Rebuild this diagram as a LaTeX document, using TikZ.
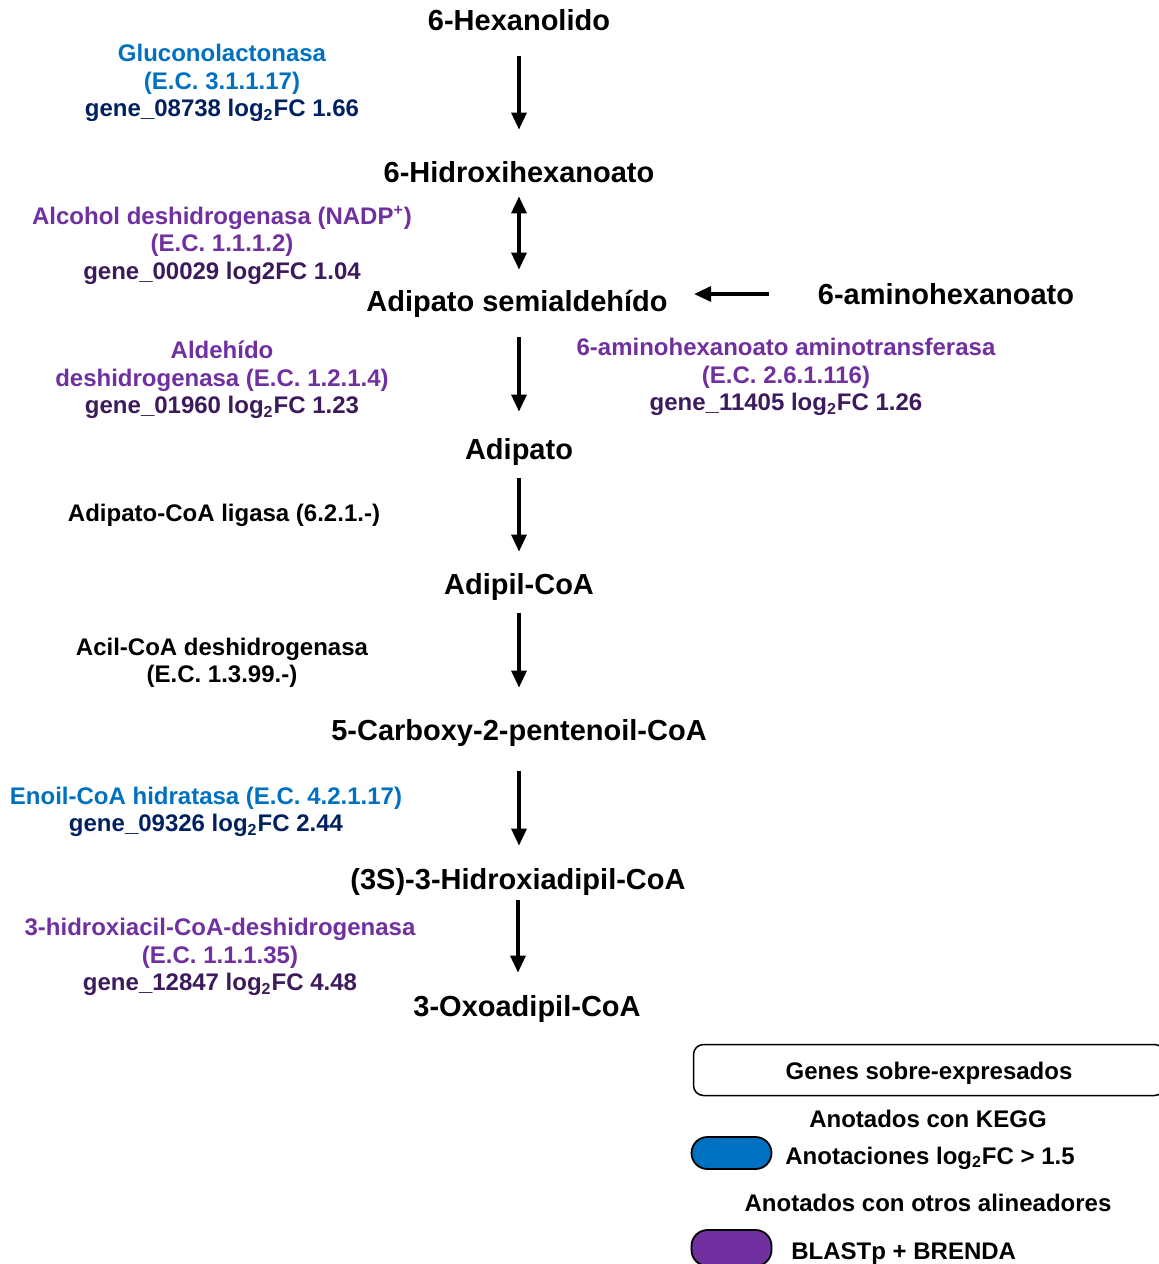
\documentclass[tikz,border=0pt]{standalone}
\usepackage{fontspec}
\setmainfont{Liberation Sans}
\usetikzlibrary{arrows.meta}

\definecolor{keggblue}{HTML}{0070C0}
\definecolor{keggnavy}{HTML}{002060}
\definecolor{blastpurple}{HTML}{7030A0}
\definecolor{blastdark}{HTML}{3C1A5B}

\newcommand{\lfc}{log\textsubscript{2}FC}

\begin{document}
\begin{tikzpicture}[
  x=0.5pt, y=-0.5pt, >={Triangle[length=8.5pt,width=7.5pt]},
  met/.style={font=\bfseries\fontsize{14.5}{17}\selectfont, inner sep=0pt,
              text height=12pt, text depth=1.5pt},
  enz/.style={font=\bfseries\fontsize{12}{13.75}\selectfont, align=center,
              inner sep=0pt},
  rxn/.style={->, line width=1.6pt},
  leg/.style={font=\bfseries\fontsize{12}{14}\selectfont, inner sep=0pt},
  pill/.style={draw=black, line width=0.9pt, rounded corners=8pt,
               minimum width=40pt, inner sep=0pt}
]

  \clip (0,0) rectangle (1159,1264);

  % ── Metabolites ──────────────────────────────────────────────────────────

  \node[met] (hex) at (519,20)   {6-Hexanolido};
  \node[met] (hid) at (519,172)  {6-Hidroxihexanoato};
  \node[met] (ads) at (517,301)  {Adipato semialdehído};
  \node[met] (amh) at (946,294)  {6-aminohexanoato};
  \node[met] (adi) at (519,449)  {Adipato};
  \node[met] (apc) at (519,584)  {Adipil-CoA};
  \node[met] (cpc) at (519,730)  {5-Carboxy-2-pentenoil-CoA};
  \node[met] (hac) at (518,879)  {(3S)-3-Hidroxiadipil-CoA};
  \node[met] (oxo) at (527,1006) {3-Oxoadipil-CoA};

  % ── Reactions ────────────────────────────────────────────────────────────

  \draw[rxn, shorten <=11.25pt, shorten >=14.25pt] (hex.south) -- (hex.south |- hid.north);
  \draw[rxn, <->, shorten <=5.25pt, shorten >=8.75pt] (hid.south) -- (hid.south |- ads.north);
  \draw[rxn, shorten <=11.25pt, shorten >=11.75pt] (adi.north |- ads.south) -- (adi.north);
  \draw[rxn, shorten <=7.75pt, shorten >=9.25pt] (adi.south) -- (apc.north);
  \draw[rxn, shorten <=7.75pt, shorten >=14.25pt] (apc.south) -- (cpc.north);
  \draw[rxn, shorten <=13.75pt, shorten >=9.75pt] (cpc.south) -- (cpc.south |- hac.north);
  \draw[rxn, shorten <=3.75pt, shorten >=9.75pt] (hac.south) -- (hac.south |- oxo.north);
  \draw[rxn, shorten <=24.5pt, shorten >=13pt] (amh.west) -- (amh.west -| ads.east);

  % ── Enzymes ──────────────────────────────────────────────────────────────

  \node[enz] (glc) at (222,83)
      {\textcolor{keggblue}{Gluconolactonasa}\\
       \textcolor{keggblue}{(E.C. 3.1.1.17)}\\
       \textcolor{keggnavy}{gene\_08738 \lfc{} 1.66}};
  \node[enz] (adh) at (222,245)
      {\textcolor{blastpurple}{Alcohol deshidrogenasa (NADP\textsuperscript{+})}\\
       \textcolor{blastpurple}{(E.C. 1.1.1.2)}\\
       \textcolor{blastdark}{gene\_00029 log2FC 1.04}};
  \node[enz] (ald) at (222,380)
      {\textcolor{blastpurple}{Aldehído}\\
       \textcolor{blastpurple}{deshidrogenasa (E.C. 1.2.1.4)}\\
       \textcolor{blastdark}{gene\_01960 \lfc{} 1.23}};
  \node[enz] (amt) at (786,377)
      {\textcolor{blastpurple}{6-aminohexanoato aminotransferasa}\\
       \textcolor{blastpurple}{(E.C. 2.6.1.116)}\\
       \textcolor{blastdark}{gene\_11405 \lfc{} 1.26}};
  \node[enz] (lig) at (224,515) {Adipato-CoA ligasa (6.2.1.-)};
  \node[enz] (acd) at (222,663) {Acil-CoA deshidrogenasa\\(E.C. 1.3.99.-)};
  \node[enz] (eno) at (206,812)
      {\textcolor{keggblue}{Enoil-CoA hidratasa (E.C. 4.2.1.17)}\\
       \textcolor{keggnavy}{gene\_09326 \lfc{} 2.44}};
  \node[enz] (hcd) at (220,957)
      {\textcolor{blastpurple}{3-hidroxiacil-CoA-deshidrogenasa}\\
       \textcolor{blastpurple}{(E.C. 1.1.1.35)}\\
       \textcolor{blastdark}{gene\_12847 \lfc{} 4.48}};

  % ── Legend ───────────────────────────────────────────────────────────────

  \node[leg, draw, line width=0.75pt, rounded corners=5pt, minimum width=235.5pt,
        minimum height=25.5pt, text height=10pt, text depth=1pt]
      (lgbox) at (929,1070) {Genes sobre-expresados};
  \node[leg] (lgkegg) at (928,1119) {Anotados con KEGG};
  \node[pill, fill=keggblue, minimum height=16pt] (pkegg) at (731.5,1153) {};
  \node[leg, anchor=west] (lgblue) at (785,1158) {Anotaciones \lfc{} > 1.5};
  \node[leg] (lgotros) at (928,1203) {Anotados con otros alineadores};
  \node[pill, fill=blastpurple, minimum height=18pt] (pblast) at (731.5,1248) {};
  \node[leg, anchor=west] (lgblast) at (791,1254) {BLASTp + BRENDA};

\end{tikzpicture}
\end{document}
